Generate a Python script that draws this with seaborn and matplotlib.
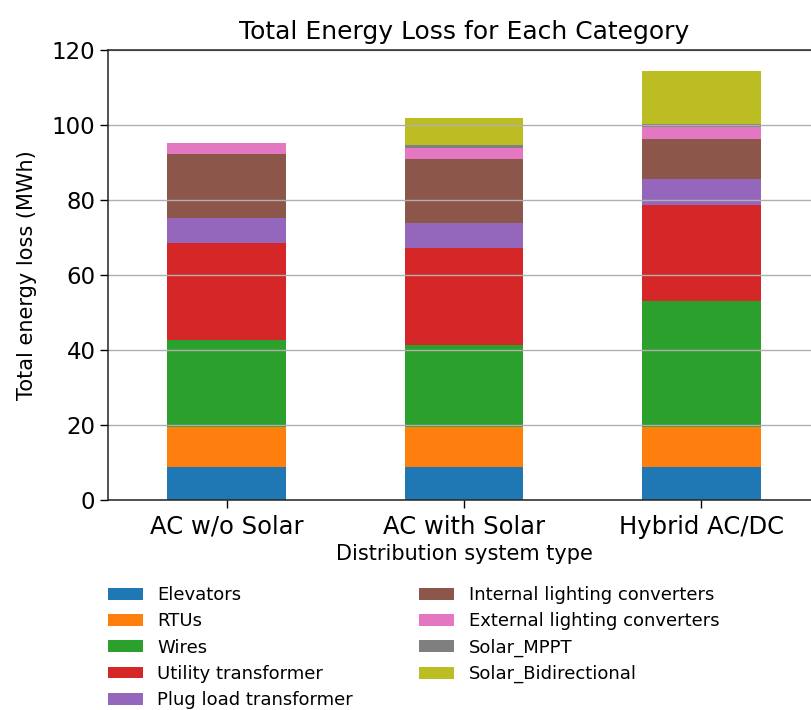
import matplotlib
matplotlib.use("Agg")
import matplotlib.pyplot as plt
from matplotlib.patches import Patch
import numpy as np
import pandas as pd
import seaborn as sns

# Distribution system types (x categories)
systems = ["AC w/o Solar", "AC with Solar", "Hybrid AC/DC"]

# Energy loss per component, MWh (stack order bottom -> top)
elevators = [8.9, 8.9, 8.9]
rtus = [10.6, 10.6, 10.6]
wires = [23.1, 21.8, 33.6]
utility_transformer = [25.9, 25.8, 25.6]
plug_load_transformer = [6.8, 6.8, 6.8]
internal_lighting = [17.0, 17.0, 10.8]
external_lighting = [2.9, 3.0, 3.1]
solar_mppt = [0.0, 0.8, 0.8]
solar_bidirectional = [0.0, 7.1, 14.2]

components = [
    "Elevators", "RTUs", "Wires", "Utility transformer", "Plug load transformer",
    "Internal lighting converters", "External lighting converters",
    "Solar_MPPT", "Solar_Bidirectional",
]
series = [elevators, rtus, wires, utility_transformer, plug_load_transformer,
          internal_lighting, external_lighting, solar_mppt, solar_bidirectional]
colors = ["#1f77b4", "#ff7f0e", "#2ca02c", "#d62728", "#9467bd",
          "#8c564b", "#e377c2", "#7f7f7f", "#bcbd22"]

df = pd.DataFrame(dict(zip(components, series)), index=systems)
cum = df.cumsum(axis=1)

plt.rcParams["font.family"] = ["DejaVu Sans"]

fig = plt.figure(figsize=(8.11, 7.10), dpi=100)
ax = fig.add_axes([108 / 811, 1 - 500 / 710, 712 / 811, 450 / 710])

# Stacked bars: draw cumulative totals from the top layer down
for name, color in zip(reversed(components), reversed(colors)):
    sns.barplot(x=systems, y=cum[name].values, color=color, width=0.5,
                saturation=1, ax=ax, errorbar=None)

ax.set_ylim(0, 120)
ax.set_xlim(-0.5, 2.5)
ax.set_yticks(range(0, 121, 20))
ax.yaxis.grid(True, color="#b0b0b0", linewidth=1.0)
ax.set_axisbelow(False)
ax.tick_params(axis="both", length=5.5, width=1.0, direction="out")
ax.tick_params(axis="y", labelsize=16.5)
ax.tick_params(axis="x", labelsize=17.5, pad=5)
for s in ax.spines.values():
    s.set_linewidth(1.1)
    s.set_color("#222222")
    s.set_zorder(4)

ax.set_title("Total Energy Loss for Each Category", fontsize=18, pad=8)
ax.set_xlabel("Distribution system type", fontsize=15, labelpad=4)
ax.set_ylabel("Total energy loss (MWh)", fontsize=15, labelpad=11)

handles = [Patch(facecolor=c, label=n) for n, c in zip(components, colors)]
fig.legend(handles=handles, loc="upper left", bbox_to_anchor=(107.7 / 811, 1 - 586 / 710),
           ncol=2, frameon=False, fontsize=13, handlelength=1.94, handleheight=0.63,
           handletextpad=0.8, columnspacing=3.68, labelspacing=0.46, borderpad=0,
           borderaxespad=0)

fig.savefig("out.png", dpi=100)
